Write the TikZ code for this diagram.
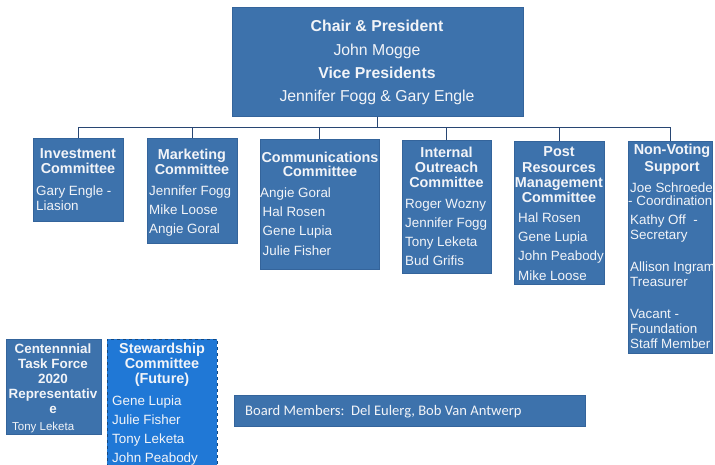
\documentclass[tikz,border=0pt]{standalone}
\usepackage{fontspec}
\setmainfont{Liberation Sans}
\newfontfamily\calibri{Carlito}
\definecolor{boxblue}{RGB}{61,114,172}
\definecolor{boxedge}{RGB}{52,100,155}
\definecolor{brightblue}{RGB}{32,120,214}
\definecolor{txt}{RGB}{242,244,248}
\definecolor{linec}{RGB}{40,70,115}
\begin{document}
\begin{tikzpicture}[x=1pt,y=-1pt,
  box/.style={draw=boxedge, fill=boxblue, line width=0.6pt, inner sep=0, anchor=north west},
  ttl/.style={text=txt, font=\bfseries\fontsize{14.4}{15}\selectfont, anchor=base, inner sep=0},
  nm/.style={text=txt, font=\fontsize{13.4}{16}\selectfont, anchor=base west, inner sep=0},
  toptl/.style={text=txt, font=\bfseries\fontsize{15.8}{18}\selectfont, anchor=base, inner sep=0},
  topnm/.style={text=txt, font=\fontsize{15.8}{18}\selectfont, anchor=base, inner sep=0},
  link/.style={draw=linec, line width=1.2pt}]
\useasboundingbox (0,0) rectangle (715,465);

% boxes
\node[box, minimum width=291, minimum height=109] (top) at (232,7) {};
\node[box, minimum width=90, minimum height=83] (inv) at (33,138) {};
\node[box, minimum width=90, minimum height=105] (mkt) at (147,138) {};
\node[box, minimum width=119, minimum height=130] (com) at (260,139) {};
\node[box, minimum width=89, minimum height=133] (ino) at (402,140) {};
\node[box, minimum width=90, minimum height=143] (prm) at (514,141) {};
\node[box, minimum width=84, minimum height=212] (nv) at (628,141) {};
\node[box, minimum width=95, minimum height=95] (cen) at (6,339) {};
\node[box, fill=brightblue, draw=brightblue!60!black, dashed, minimum width=110, minimum height=135] (stw) at (107,339) {};
\node[box, minimum width=351, minimum height=31] (brd) at (234,395) {};

% connectors
\draw[link] (top.south) -- ++(0,11) coordinate (hub);
\draw[link] (inv.north) |- (hub) -| (nv.north);
\foreach \b in {mkt,com,ino,prm} \draw[link] (\b.north) -- (\b.north |- hub);

% top box text
\node[toptl] (top-1) at (377,32) {Chair \& President};
\node[topnm] (top-2) at (377,55.5) {John Mogge};
\node[toptl] (top-3) at (377,79) {Vice Presidents};
\node[topnm] (top-4) at (377,102) {Jennifer Fogg \& Gary Engle};

% Investment
\foreach \t [count=\i] in {Investment,Committee} \node[ttl] (inv-t\i) at (78,144+15*\i) {\t};
\node[nm] (inv-n1) at (36,196) {Gary Engle -};
\node[nm] (inv-n2) at (36,211) {Liasion};

% Marketing
\foreach \t [count=\i] in {Marketing,Committee} \node[ttl] (mkt-t\i) at (192,145+15*\i) {\t};
\foreach \t [count=\i] in {Jennifer Fogg,Mike Loose,Angie Goral} \node[nm] (mkt-n\i) at (149,177+19*\i) {\t};

% Communications
\foreach \t [count=\i] in {Communications,Committee} \node[ttl] (com-t\i) at (320,149+14*\i) {\t};
\node[nm] (com-n1) at (260,198) {Angie Goral};
\foreach \t [count=\i] in {Hal Rosen,Gene Lupia,Julie Fisher} \node[nm] (com-n\i) at (262.5,198+19*\i) {\t};

% Internal Outreach
\foreach \t [count=\i] in {Internal,Outreach,Committee} \node[ttl] (ino-t\i) at (446.5,142+15.3*\i) {\t};
\foreach \t [count=\i] in {Roger Wozny,Jennifer Fogg,Tony Leketa,Bud Grifis} \node[nm] (ino-n\i) at (405,189+19.2*\i) {\t};

% Post Resources
\foreach \t [count=\i] in {Post,Resources,Management,Committee} \node[ttl] (prm-t\i) at (559,141.5+15.3*\i) {\t};
\foreach \t [count=\i] in {Hal Rosen,Gene Lupia,John Peabody,Mike Loose} \node[nm] (prm-n\i) at (518,204+19*\i) {\t};

% Non-Voting
\foreach \t [count=\i] in {Non-Voting,Support} \node[ttl] (nv-t\i) at (672,138+17*\i) {\t};
\foreach \t/\yy [count=\i] in {Joe Schroedel/193,Kathy Off~ -/225,Secretary/240,Allison Ingram/272,Treasurer/287,Vacant -/318,Foundation/333,Staff Member/348}
  \node[nm] (nv-n\i) at (630,\yy) {\t};
\node[nm] (nv-n0) at (628,206) {- Coordination};

% Centennial
\foreach \t [count=\i] in {Centennnial,Task Force,2020,Representativ,e} \node[ttl, font=\bfseries\fontsize{13.4}{15}\selectfont] (cen-t\i) at (53,338+15*\i) {\t};
\node[nm, font=\fontsize{11.5}{13}\selectfont] (cen-n1) at (12,430) {Tony Leketa};

% Stewardship
\foreach \t [count=\i] in {Stewardship,Committee,(Future)} \node[ttl] (stw-t\i) at (162,338+15.3*\i) {\t};
\foreach \t [count=\i] in {Gene Lupia,Julie Fisher,Tony Leketa,John Peabody} \node[nm] (stw-n\i) at (112,386+19*\i) {\t};

% Board
\node[anchor=base west, inner sep=0, text=txt, font=\calibri\fontsize{14.6}{16}\selectfont] (brd-t) at (245,415) {Board Members:\ \ Del Eulerg, Bob Van Antwerp};
\end{tikzpicture}
\end{document}
